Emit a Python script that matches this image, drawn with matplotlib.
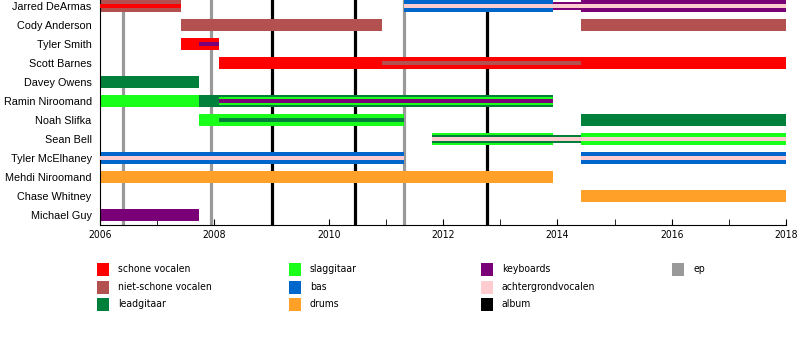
import matplotlib.pyplot as plt
from matplotlib.patches import Rectangle

members = ["Jarred DeArmas", "Cody Anderson", "Tyler Smith", "Scott Barnes",
           "Davey Owens", "Ramin Niroomand", "Noah Slifka", "Sean Bell",
           "Tyler McElhaney", "Mehdi Niroomand", "Chase Whitney", "Michael Guy"]

roles = ["schone vocalen", "niet-schone vocalen", "leadgitaar", "slaggitaar",
         "bas", "drums", "keyboards", "achtergrondvocalen", "album", "ep"]
role_colors = ["#ff0000", "#b35050", "#00803a", "#1aff1a",
               "#0066cc", "#ffa028", "#7a0078", "#ffccd0", "#000000", "#999999"]

# (member, start, end, role)
main_bars = [
    ("Jarred DeArmas", 2006.0, 2007.42, "niet-schone vocalen"),
    ("Jarred DeArmas", 2011.32, 2013.92, "bas"),
    ("Jarred DeArmas", 2014.41, 2018.0, "keyboards"),
    ("Cody Anderson", 2007.42, 2010.93, "niet-schone vocalen"),
    ("Cody Anderson", 2014.41, 2018.0, "niet-schone vocalen"),
    ("Tyler Smith", 2007.42, 2008.08, "schone vocalen"),
    ("Scott Barnes", 2008.08, 2018.0, "schone vocalen"),
    ("Davey Owens", 2006.0, 2007.73, "leadgitaar"),
    ("Ramin Niroomand", 2006.0, 2007.73, "slaggitaar"),
    ("Ramin Niroomand", 2007.73, 2013.92, "leadgitaar"),
    ("Noah Slifka", 2007.73, 2011.32, "slaggitaar"),
    ("Noah Slifka", 2014.41, 2018.0, "leadgitaar"),
    ("Sean Bell", 2011.81, 2013.92, "slaggitaar"),
    ("Sean Bell", 2014.41, 2018.0, "slaggitaar"),
    ("Tyler McElhaney", 2006.0, 2011.32, "bas"),
    ("Tyler McElhaney", 2014.41, 2018.0, "bas"),
    ("Mehdi Niroomand", 2006.0, 2013.92, "drums"),
    ("Chase Whitney", 2014.41, 2018.0, "drums"),
    ("Michael Guy", 2006.0, 2007.73, "keyboards"),
]

second_bars = [
    ("Jarred DeArmas", 2013.92, 2014.41, "keyboards"),
    ("Ramin Niroomand", 2008.08, 2013.92, "slaggitaar"),
    ("Sean Bell", 2011.81, 2014.41, "leadgitaar"),
]

inner_bars = [
    ("Jarred DeArmas", 2006.0, 2007.42, "schone vocalen"),
    ("Jarred DeArmas", 2011.32, 2018.0, "achtergrondvocalen"),
    ("Tyler Smith", 2007.73, 2008.08, "keyboards"),
    ("Scott Barnes", 2010.93, 2014.41, "niet-schone vocalen"),
    ("Ramin Niroomand", 2008.08, 2013.92, "keyboards"),
    ("Noah Slifka", 2008.08, 2011.32, "leadgitaar"),
    ("Sean Bell", 2011.81, 2018.0, "achtergrondvocalen"),
    ("Tyler McElhaney", 2006.0, 2011.32, "achtergrondvocalen"),
    ("Tyler McElhaney", 2014.41, 2018.0, "achtergrondvocalen"),
]

albums = [2009.01, 2010.46, 2012.77]
eps = [2006.40, 2007.94, 2011.32]

color_of = dict(zip(roles, role_colors))
row_of = {m: i for i, m in enumerate(members)}
narrow = dict(family="DejaVu Sans", stretch="condensed")

fig = plt.figure(figsize=(8, 3.4), dpi=100)
ax = fig.add_axes([0.125, 1 - 225 / 340, 0.8575, 225 / 340])

for x in albums:
    ax.axvline(x, color=color_of["album"], lw=2.3, zorder=1)
for x in eps:
    ax.axvline(x, color=color_of["ep"], lw=2.3, zorder=1)


def draw(bars, h, z):
    for m, s, e, r in bars:
        ax.barh(row_of[m], e - s, left=s, height=h, color=color_of[r],
                linewidth=0, zorder=z)


draw(main_bars, 0.63, 2)
draw(second_bars, 0.42, 3)
draw(inner_bars, 0.2, 4)

ax.set_xlim(2006, 2018)
ax.set_ylim(11.53, -0.32)
ax.set_yticks(range(len(members)))
ax.set_yticklabels(members, fontsize=7.8, family=["Liberation Sans", "DejaVu Sans"])
ax.tick_params(axis="y", length=0, pad=6)
ax.set_xticks(range(2006, 2019, 2))
ax.set_xticks(range(2006, 2019), minor=True)
ax.tick_params(axis="x", which="both", direction="in", length=4, labelsize=7.5)
for lbl in ax.get_xticklabels():
    lbl.set_family(narrow["family"])
    lbl.set_stretch(narrow["stretch"])
ax.spines["top"].set_visible(False)
ax.spines["right"].set_visible(False)

# legend, 4 columns laid out like the original
cols_x = [97, 289, 481, 672]
rows_y = [269, 287, 304]
legend_cols = [roles[0:3], roles[3:6], roles[6:9], roles[9:]]
for ci, col in enumerate(legend_cols):
    for ri, r in enumerate(col):
        x0 = cols_x[ci] / 800
        yc = 1 - rows_y[ri] / 340
        fig.patches.append(Rectangle((x0, yc - 6.5 / 340), 12 / 800, 13 / 340,
                                     transform=fig.transFigure,
                                     color=color_of[r], linewidth=0))
        fig.text(x0 + 21 / 800, yc, r, va="center", ha="left", fontsize=7.5,
                 **narrow)

fig.savefig("out.png", dpi=100)
